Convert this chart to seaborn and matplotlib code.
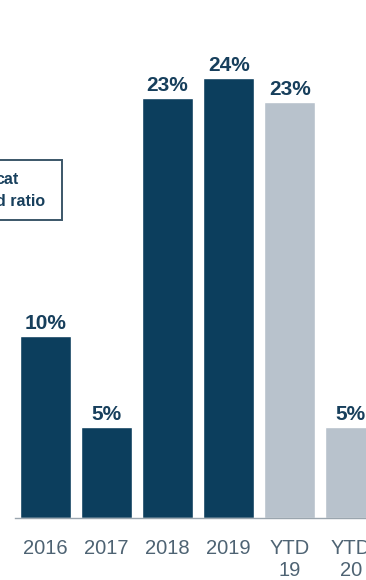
import matplotlib
matplotlib.use("Agg")
import matplotlib.pyplot as plt
import seaborn as sns
import pandas as pd
from matplotlib.patches import Rectangle

categories = ["2016", "2017", "2018", "2019", "YTD\n19", "YTD\n20"]
values = [10.0, 5.0, 23.0, 24.1, 22.8, 5.0]
value_labels = ["10%", "5%", "23%", "24%", "23%", "5%"]
bar_colors = ["#0c3e5d", "#0c3e5d", "#0c3e5d", "#0c3e5d", "#b8c2cc", "#b8c2cc"]
box_lines = ["cat", "d ratio"]

sns.set_theme(style="white")
plt.rcParams["font.family"] = ["Liberation Sans", "DejaVu Sans"]

W, H = 366, 580
fig = plt.figure(figsize=(W / 100, H / 100), dpi=100)
fig.patch.set_facecolor("white")
ax = fig.add_axes([15 / W, 62 / H, 1 - 15 / W, 1 - 62 / H])

df = pd.DataFrame({"cat": categories, "val": values})
sns.barplot(data=df, x="cat", y="val", hue="cat", palette=bar_colors,
            order=categories, hue_order=categories, legend=False,
            width=0.836, saturation=1, ax=ax)

ax.set_xlim(-0.5, 5.25)
ax.set_ylim(0, 518 / 18.25)
for s in ["top", "right", "left"]:
    ax.spines[s].set_visible(False)
ax.spines["bottom"].set_color("#9aa5ae")
ax.spines["bottom"].set_linewidth(1.0)
ax.set_yticks([])
ax.set_xlabel("")
ax.set_ylabel("")
ax.tick_params(axis="x", length=0, pad=15, labelsize=14.5, labelcolor="#4e6373")

for i, (v, lab) in enumerate(zip(values, value_labels)):
    ax.annotate(lab, (i, v), xytext=(0, 2), textcoords="offset points",
                ha="center", va="bottom", fontsize=15, fontweight="bold",
                color="#173f5c")


def px(x, y):
    return x / W, 1 - y / H


# partially visible callout box at the left edge (cut off as in the source)
rect = Rectangle(px(-5, 220), 67 / W, 60 / H, transform=fig.transFigure,
                 fill=False, edgecolor="#3b5668", linewidth=1.4, clip_on=False)
fig.patches.append(rect)
fig.text(*px(-4.5, 179), box_lines[0], ha="left", va="center", fontsize=11.5,
         fontweight="bold", color="#173f5c")
fig.text(*px(-4.5, 202), box_lines[1], ha="left", va="center", fontsize=11.5,
         fontweight="bold", color="#173f5c")

fig.savefig("out.png", dpi=100, facecolor="white")
